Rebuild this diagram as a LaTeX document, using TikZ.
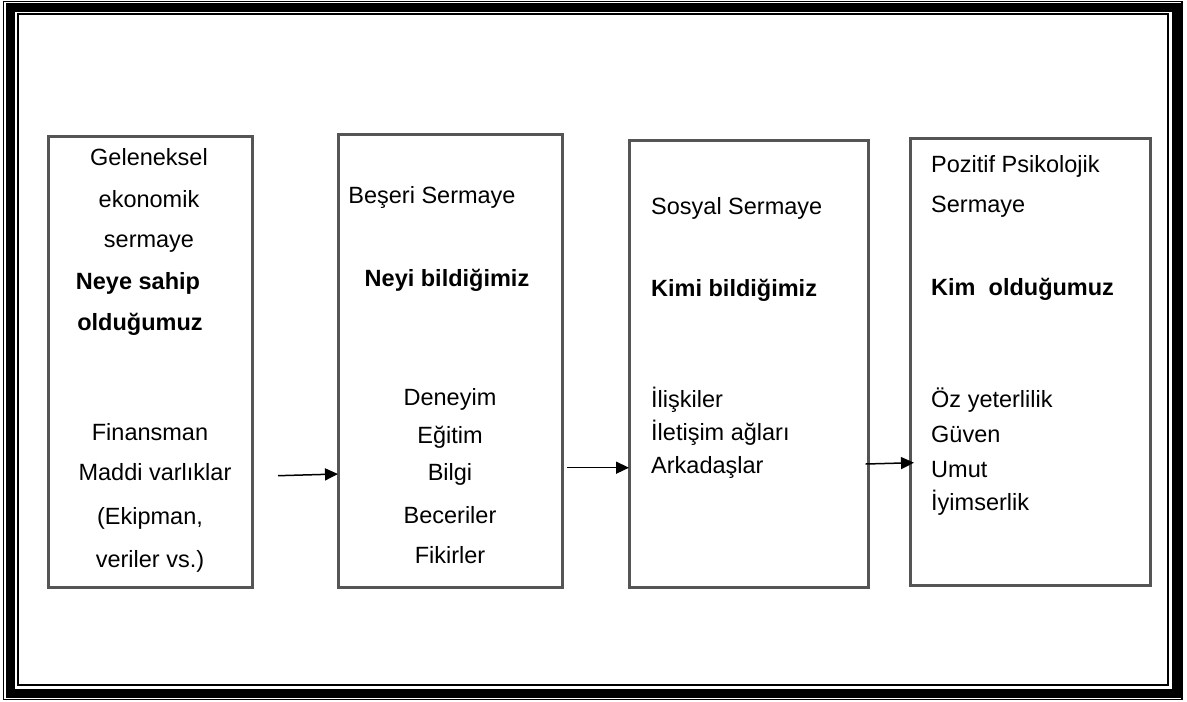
\documentclass[tikz,border=0pt]{standalone}
\usepackage{fontspec}
\setmainfont{Liberation Sans}
\usetikzlibrary{arrows.meta}
\definecolor{boxgray}{HTML}{555555}
\begin{document}
\begin{tikzpicture}[x=1pt,y=-1pt,
  panel/.style={draw=boxgray, line width=3pt, inner sep=0pt, outer sep=0pt},
  txt/.style={inner sep=0pt, font=\fontsize{23.5}{28}\selectfont},
  ctxt/.style={txt, anchor=mid},
  ltxt/.style={txt, anchor=mid west},
  btxt/.style={ctxt, font=\fontsize{23.5}{28}\selectfont\bfseries},
  lbtxt/.style={ltxt, font=\fontsize{23.5}{28}\selectfont\bfseries},
  flow/.style={line width=1.5pt, -{Triangle[length=13pt,width=12pt]}}
]
\useasboundingbox (0,0) rectangle (1187,702);
% page frame
\draw[line width=1.5pt] (3.7,1.5) rectangle (1182,699.7);
\draw[line width=9pt] (10.5,7.5) rectangle (1176,693);
\draw[line width=2pt] (17.7,14.3) rectangle (1168.3,685.3);

% boxes
\node[panel, minimum width=204pt, minimum height=451pt] (b1) at (150,361.5) {};
\node[panel, minimum width=224pt, minimum height=453pt] (b2) at (450,360.5) {};
\node[panel, minimum width=239pt, minimum height=447pt] (b3) at (748.5,363.5) {};
\node[panel, minimum width=240pt, minimum height=447pt] (b4) at (1030,361.5) {};

% box 1
\node[ctxt] (t11) at (149,163) {Geleneksel};
\node[ctxt] (t12) at (149,205) {ekonomik};
\node[ctxt] (t13) at (149,245) {sermaye};
\node[btxt] (t14) at (138,287) {Neye sahip};
\node[btxt] (t15) at (140,328) {olduğumuz};
\node[ctxt] (t16) at (150,438) {Finansman};
\node[ctxt] (t17) at (155,478) {Maddi varlıklar};
\node[ctxt] (t18) at (150,522) {(Ekipman,};
\node[ctxt] (t19) at (150,565) {veriler vs.)};

% box 2
\node[ctxt] (t21) at (432,201) {Beşeri Sermaye};
\node[btxt] (t22) at (447,284) {Neyi bildiğimiz};
\node[ctxt] (t23) at (450,403) {Deneyim};
\node[ctxt] (t24) at (450,441) {Eğitim};
\node[ctxt] (t25) at (450,478) {Bilgi};
\node[ctxt] (t26) at (450,521) {Beceriler};
\node[ctxt] (t27) at (450,561) {Fikirler};

% box 3
\node[ltxt] (t31) at (651,212) {Sosyal Sermaye};
\node[lbtxt] (t32) at (651,294) {Kimi bildiğimiz};
\node[ltxt] (t33) at (651,405) {İlişkiler};
\node[ltxt] (t34) at (651,438) {İletişim ağları};
\node[ltxt] (t35) at (651,471) {Arkadaşlar};

% box 4
\node[ltxt] (t41) at (931,170) {Pozitif Psikolojik};
\node[ltxt] (t42) at (931,210) {Sermaye};
\node[lbtxt] (t43) at (931,293) {Kim\ \ olduğumuz};
\node[ltxt] (t44) at (931,405) {Öz yeterlilik};
\node[ltxt] (t45) at (931,440) {Güven};
\node[ltxt] (t46) at (931,475) {Umut};
\node[ltxt] (t47) at (931,508) {İyimserlik};

% arrows
\coordinate (a1s) at (278,475.7);
\coordinate (a1e) at (b2.west |- 0,474);
\coordinate (a2s) at (567,467.7);
\coordinate (a2e) at (b3.west |- 0,467.7);
\coordinate (a3s) at (865.7,464);
\coordinate (a3e) at (914,462.7);
\draw[flow] (a1s) -- (a1e);
\draw[flow] (a2s) -- (a2e);
\draw[flow] (a3s) -- (a3e);
\end{tikzpicture}
\end{document}
